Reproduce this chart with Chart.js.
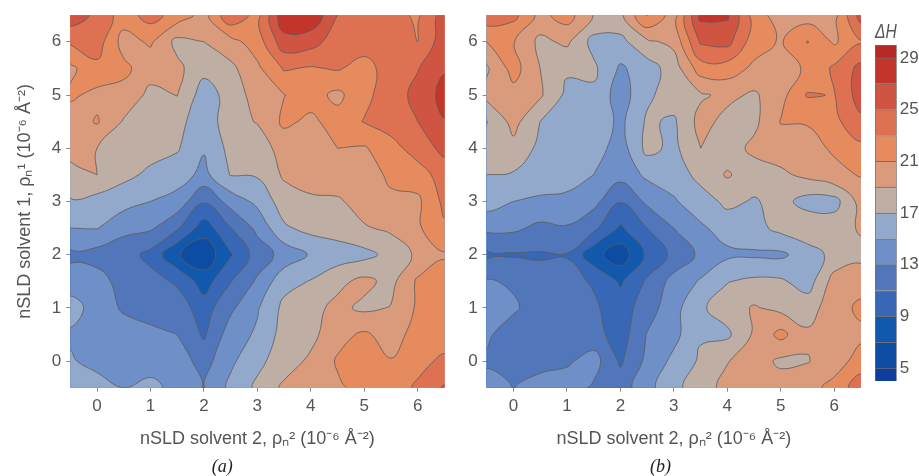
<!DOCTYPE html>
<html><head><meta charset="utf-8">
<style>html,body{margin:0;padding:0;background:#fff;width:919px;height:476px;overflow:hidden}canvas{position:absolute;top:0}</style>
<script src="https://cdn.jsdelivr.net/npm/chart.js@4/dist/chart.umd.min.js"></script>
</head><body>
<canvas id="a" width="488" height="476" style="left:0"></canvas>
<canvas id="b" width="413" height="476" style="left:460px"></canvas>
<canvas id="c" width="59" height="476" style="left:860px"></canvas>
<script>
const xNodes=[-0.5,0,0.5,1,1.5,2,2.5,3,3.5,4,4.5,5,5.5,6,6.5];
const yNodesTopDown=[6.5,6,5.5,5,4.5,4,3.5,3,2.5,2,1.5,1,0.5,0,-0.5];
const tickValues=[0,1,2,3,4,5,6];
const barEdges=[4,5,7,9,11,13,15,17,19,21,23,25,27,29,30];
const barTicks=[5,9,13,17,21,25,29];
const bandColors=['#0e3f9e','#0c4ca3','#1258ac','#3767b5','#5276ba','#6f8fc8','#93a9cc','#bfaea3','#d99b7c','#e58b5d','#de7151','#cf5442','#c3352b','#b52a24'];
const panelA=[
[26.2,24.5,22,23.8,22.1,20.3,24.6,22.2,28.5,28.6,25,24,23.8,22.6,26],
[23.3,24,20.2,21.3,18.4,19,20.3,22,26.2,25.8,24,24,24.3,23,26.2],
[20.5,22.5,21.5,19.8,19.5,17.6,18.5,20.6,23.2,22.8,23.2,22.2,24,24.9,26.8],
[21.4,20.4,20.3,18.5,19.05,16,17.8,19.9,20.95,21.8,20.5,22.5,24,25.6,27.7],
[19.8,21.2,18.8,18,17.8,15.5,18.4,19.1,21.4,20.6,21.8,23.1,24,25,26.9],
[19.5,19,18,17.7,17.2,15.2,17.6,18,19.8,20.5,21,20.8,22.2,24,25.5],
[18.5,19,17.5,16.6,16,14.4,17.1,17.2,19.3,20,20.3,20,21.4,22,24],
[16.8,16.2,15.8,15,14.2,11.2,13.8,15.5,18,18.6,18.7,19.9,20.6,20.6,23.5],
[15,15.1,13.5,13.3,11.3,7.9,10.9,13.5,16.7,17.6,18,18.8,19.4,20.7,22.7],
[12.5,12.2,11.9,10.4,7.2,5.6,8.8,11.9,13.7,15.2,15.9,16.4,17.6,19.4,20.8],
[14,13.8,12.2,11.7,10.7,8,10.9,13.3,16.3,17.1,18.5,19.5,18.4,21.3,21.9],
[15.8,14.2,12.7,12.3,12,10,12.6,14.8,17.5,18.4,19.5,18.6,19.1,21.3,21.9],
[14.7,14.2,14,13.4,13,10.7,14,15.3,17.8,18.4,20.4,21.3,20.2,21.7,22],
[15.2,14.4,14.3,14.2,14,12.2,14.6,16.5,18,19.4,21.2,21.6,21.1,22.4,23.4],
[16,15.8,15,15.5,14.4,12.9,15.5,17.4,19.4,20.3,20.7,21.6,22,23.3,25.2]
];
const panelB=[
[24.3,23.6,20.4,21.9,18.9,18.5,23.1,20,27.5,27.3,22,20,20,20.2,25.9],
[21,21.1,18.5,19.4,16.3,16.4,18.6,19.5,25.3,25.7,21.9,20.8,23.1,20.7,22.8],
[18.7,21.8,19,17.3,17.4,14.7,16,18,22,22,20.6,20.7,21.1,23.4,25.6],
[19.6,20.3,19.3,16.5,16.6,14,16.6,18,18.7,19.5,18.7,20.3,23.2,22.9,26],
[16.9,19.7,17,16,16.5,14.5,17.3,16.7,19.7,18.4,18.5,21.1,21.1,22.5,24.5],
[18,18.4,16.5,16,16,14,17.6,16.5,19,18,19.5,20,20.5,21.2,22.5],
[17,16.8,16,15.7,15,13.7,15.4,15.8,17.7,19.2,18,18.6,19.5,20.6,21.1],
[15.9,15,14.7,14.6,13.6,11.1,13.4,14.8,16,17.5,16.8,17.7,16.2,16.2,19.8],
[13.5,13.4,12.5,12.8,11.5,8.7,11,13,14.7,15.8,16.3,17.6,18.5,18.2,19.2],
[10.5,10.8,10.8,10.9,7.7,5.8,9.4,11.5,13.4,14.6,14.7,14.6,16,17.6,18.5],
[13.2,12.7,11.7,11.6,10.8,8.7,11.3,13.7,15.2,16.9,17.4,17.3,16,19.8,20],
[13.9,13.3,12,11.8,11.3,10,12,14.3,16.7,18,19.2,18.4,18.2,20,21.5],
[13.3,12,11.8,11.7,11.8,10,13.1,14.4,16.8,16.6,19.3,21.6,19.3,20,20.5],
[12.7,12.3,12.4,12.7,13.8,10.7,13.5,15.5,17.3,18.9,20,18.6,18.9,20,21.9],
[13.8,12.95,13.7,14,12.7,12,14.3,16.5,18,19.7,20,20,20.2,21.7,24.2]
];
const PAD=0.2;
function contourRings(rows,level){
  const n=xNodes.length,X=[xNodes[0]-PAD,...xNodes,xNodes[n-1]+PAD],Y=[...yNodesTopDown].reverse();
  const YY=[Y[0]-PAD,...Y,Y[n-1]+PAD];
  const val=(i,j)=>(i===0||j===0||i===n+1||j===n+1)?null:rows[n-j][i-1];
  const ins=v=>v!==null&&v>=level;
  const next=new Map(),pts=new Map();
  const edgeKey=(i1,j1,i2,j2)=>i1+','+j1+','+i2+','+j2;
  function cross(c1,c2){
    const k=(c1[0]<c2[0]||c1[1]<c2[1])?edgeKey(c1[0],c1[1],c2[0],c2[1]):edgeKey(c2[0],c2[1],c1[0],c1[1]);
    if(!pts.has(k)){
      const a=val(c1[0],c1[1]),b=val(c2[0],c2[1]);
      const t=(a===null||b===null)?0.5:(level-a)/(b-a);
      pts.set(k,{x:X[c1[0]]+(X[c2[0]]-X[c1[0]])*t,y:YY[c1[1]]+(YY[c2[1]]-YY[c1[1]])*t});
    }
    return k;
  }
  for(let i=0;i<=n;i++)for(let j=0;j<=n;j++){
    const c=[[i,j],[i+1,j],[i+1,j+1],[i,j+1]];
    const s=c.map(p=>ins(val(p[0],p[1])));
    const exits=[],enters=[];
    for(let k=0;k<4;k++){const m=(k+1)%4;if(s[k]&&!s[m])exits.push(k);if(!s[k]&&s[m])enters.push(k);}
    if(!exits.length)continue;
    const E=k=>cross(c[k],c[(k+1)%4]);
    if(exits.length===1){next.set(E(exits[0]),E(enters[0]));}
    else{
      const cv=c.map(p=>val(p[0],p[1]));
      const mid=cv.every(v=>v!==null)?(cv[0]+cv[1]+cv[2]+cv[3])/4:-1e9;
      const e0=exits[0],e1=exits[1];
      if(mid>=level){next.set(E(e0),E((e0+1)%4));next.set(E(e1),E((e1+1)%4));}
      else{next.set(E(e0),E((e0+3)%4));next.set(E(e1),E((e1+3)%4));}
    }
  }
  const rings=[],seen=new Set();
  for(const start of next.keys()){
    if(seen.has(start))continue;
    const ring=[];let k=start;
    while(k!==undefined&&!seen.has(k)){seen.add(k);ring.push(pts.get(k));k=next.get(k);}
    let a=0;for(let q=0;q<ring.length;q++){const p=ring[q],r=ring[(q+1)%ring.length];a+=p.x*r.y-r.x*p.y;}
    rings.push({points:ring,area:a/2});
  }
  return rings;
}
function ringDatasets(rows){
  let all=[];
  barEdges.slice(1,-1).forEach((lv,idx)=>{
    contourRings(rows,lv).forEach(r=>{
      all.push({lv,points:r.points,area:Math.abs(r.area),color:r.area>0?bandColors[idx+1]:bandColors[idx]});
    });
  });
  all.sort((p,q)=>q.area-p.area||p.lv-q.lv);
  return all.map((r,i)=>({data:r.points,order:all.length-i,ringFill:r.color,clip:0,
    borderColor:'#5c5c5c',borderWidth:0.8,pointRadius:0,tension:0.42,capBezierPoints:false,fill:false,borderJoinStyle:'round'}));
}
const ringPlugin={id:'ringPlugin',
  beforeDatasetsUpdate(chart){chart.data.datasets.forEach((d,i)=>{const l=chart.getDatasetMeta(i).dataset;if(l){l._loop=true;l._fullLoop=true;}});},
  beforeDatasetDraw(chart,args){
    const ds=chart.data.datasets[args.index],a=chart.chartArea,ctx=chart.ctx,line=args.meta.dataset;
    line.updateControlPoints(a);
    ctx.save();ctx.beginPath();ctx.rect(a.left,a.top,a.right-a.left,a.bottom-a.top);ctx.clip();
    ctx.beginPath();line.path(ctx);ctx.closePath();ctx.fillStyle=ds.ringFill;ctx.fill();ctx.restore();
  }};
const INK='#555';
const SANS='"Liberation Sans",Arial,sans-serif';
function panel(id,rows,caption,yTitle,axisW,padRight){
  new Chart(document.getElementById(id),{type:'line',
    data:{datasets:ringDatasets(rows)},
    plugins:[ringPlugin],
    options:{responsive:false,animation:false,events:[],
      layout:{padding:{left:0,top:14,right:padRight,bottom:0}},
      plugins:{legend:{display:false},tooltip:{enabled:false},
        title:{display:true,text:caption,position:'bottom',color:'#222',padding:0,font:{family:'"Liberation Serif",serif',style:'italic',size:18,lineHeight:1,weight:'normal'}}},
      scales:{
        x:{type:'linear',min:-0.5,max:6.5,
          afterBuildTicks:s=>{s.ticks=tickValues.map(v=>({value:v}));},
          afterFit:s=>{s.height=70.3;},
          grid:{drawOnChartArea:false,tickLength:4,color:'#888'},border:{display:false},
          ticks:{color:INK,font:{family:SANS,size:17},padding:4,maxRotation:0,callback:v=>v},
          title:{display:true,text:'nSLD solvent 2, ρₙ² (10⁻⁶ Å⁻²)',color:INK,font:{family:SANS,size:18},padding:{top:4,bottom:8}}},
        y:{type:'linear',min:-0.5,max:6.5,
          afterBuildTicks:s=>{s.ticks=tickValues.map(v=>({value:v}));},
          afterFit:s=>{s.width=axisW;},
          grid:{drawOnChartArea:false,tickLength:4,color:'#888'},border:{display:false},
          ticks:{color:INK,font:{family:SANS,size:17},padding:5,callback:v=>v},
          title:{display:yTitle!=='',text:yTitle,color:INK,font:{family:SANS,size:18},padding:{top:14,bottom:0}}}
      }}});
}
panel('a',panelA,'(a)','nSLD solvent 1, ρₙ¹ (10⁻⁶ Å⁻²)',70.3,488-444.4);
panel('b',panelB,'(b)','',26.7,12);
new Chart(document.getElementById('c'),{type:'bar',
  data:{labels:['ΔH'],datasets:bandColors.map((col,i)=>({data:[[barEdges[i],barEdges[i+1]]],backgroundColor:col,borderColor:'#6a6f78',borderWidth:1,categoryPercentage:1,barPercentage:1,grouped:false}))},
  options:{responsive:false,animation:false,events:[],
    layout:{padding:{left:15,top:0,right:0,bottom:95}},
    plugins:{legend:{display:false},tooltip:{enabled:false},
      title:{display:true,text:'ΔH',align:'start',fullSize:false,color:INK,padding:{top:22,bottom:3},font:{family:SANS,style:'italic',size:20,lineHeight:1,weight:'normal'}}},
    scales:{x:{display:false},
      y:{min:4,max:30,position:'right',
        afterBuildTicks:s=>{s.ticks=barTicks.map(v=>({value:v}));},
        afterFit:s=>{s.width=22.3;},
        grid:{display:false,drawTicks:false},border:{display:false},
        ticks:{color:INK,font:{family:SANS,size:17},padding:3,callback:v=>v}}}}});
</script>
</body></html>
